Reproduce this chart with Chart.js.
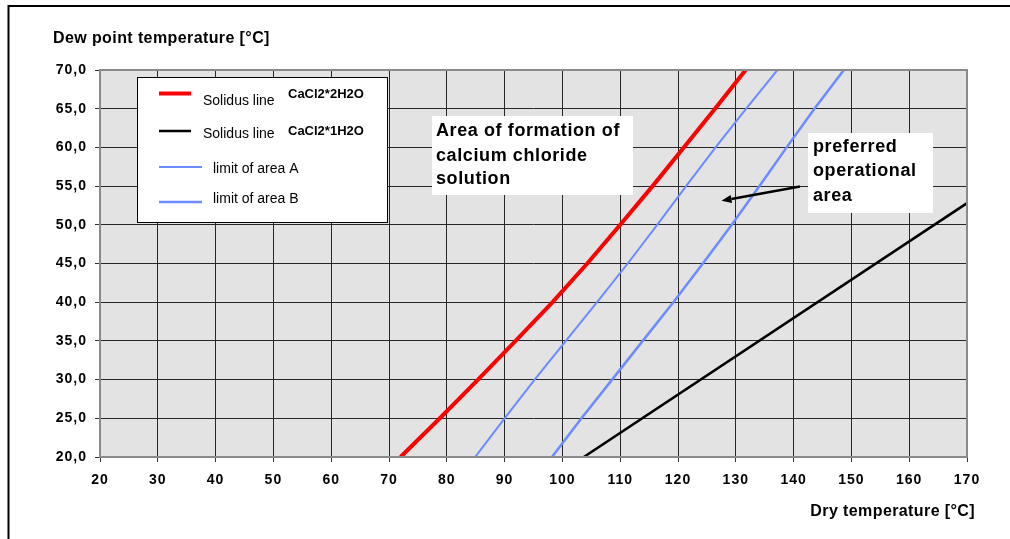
<!DOCTYPE html>
<html>
<head>
<meta charset="utf-8">
<script src="https://cdn.jsdelivr.net/npm/chart.js@4.4.0/dist/chart.umd.min.js"></script>
<style>
  body { margin: 0; background: #fff; }
  canvas { display: block; }
</style>
</head>
<body>
<canvas id="chart" width="1010" height="539"></canvas>
<script>
// dew point values (y) shared by the curves
const dewPoint = [20, 25, 30, 35, 40, 45, 50, 55, 60, 65, 70];
// dry temperature (x) for each dew point
const solidus2H2O = [72.0, 78.8, 85.4, 91.9, 98.3, 104.3, 110.0, 115.6, 121.0, 126.4, 131.7];
const limitA = [84.9, 90.0, 95.2, 100.6, 106.0, 111.3, 116.4, 121.4, 126.5, 131.8, 137.2];
const limitB = [98.2, 103.3, 108.6, 113.9, 119.2, 124.3, 129.3, 134.1, 138.8, 143.6, 148.7];
// the CaCl2*1H2O line is straight
const solidus1H2OX = [103.7, 170];
const solidus1H2OY = [20, 52.8];

const legendNames = ['Solidus line', 'Solidus line', 'limit of area A', 'limit of area B'];
const legendFormula = ['CaCl2*2H2O', 'CaCl2*1H2O', '', ''];
const note1 = ['Area of formation of', 'calcium chloride', 'solution'];
const note2 = ['preferred', 'operational', 'area'];
const yTitle = 'Dew point temperature [°C]';
const xTitle = 'Dry temperature [°C]';

const FONT = "'Liberation Sans', Arial, sans-serif";
const BLUE = '#6a8cff';

function toPoints(xs, ys) {
    return xs.map((x, i) => ({ x: x, y: ys[i] }));
}

const decor = {
    id: 'decor',
    beforeDraw(chart) {
        const { ctx, chartArea: a } = chart;
        ctx.save();
        ctx.fillStyle = '#e3e3e3';
        ctx.fillRect(a.left, a.top, a.width, a.height);
        ctx.restore();
        // tick labels in the original are a bit spread out
        ctx.letterSpacing = '1px';
    },
    beforeDatasetsDraw(chart) {
        chart.ctx.letterSpacing = '0px';
    },
    afterDatasetsDraw(chart) {
        const { ctx, chartArea: a } = chart;
        ctx.save();

        // plot border
        ctx.strokeStyle = '#8a8a8a';
        ctx.lineWidth = 2;
        ctx.strokeRect(a.left, a.top, a.width, a.height);

        // outer frame
        ctx.strokeStyle = '#000';
        ctx.lineWidth = 2;
        ctx.beginPath();
        ctx.moveTo(8.5, 539);
        ctx.lineTo(8.5, 6);
        ctx.lineTo(1010, 6);
        ctx.stroke();

        // legend
        ctx.fillStyle = '#fff';
        ctx.fillRect(137, 77, 250, 145);
        ctx.strokeStyle = '#000';
        ctx.lineWidth = 1;
        ctx.strokeRect(137.5, 77.5, 250, 145);

        const rows = [
            { y: 93.5, x2: 191, tx: 203, ty: 101, fy: 94 },
            { y: 131, x2: 191, tx: 203, ty: 134.5, fy: 131 },
            { y: 167, x2: 202, tx: 213, ty: 169, fy: 0 },
            { y: 202, x2: 202, tx: 213, ty: 199.5, fy: 0 }
        ];
        chart.data.datasets.forEach((ds, i) => {
            const r = rows[i];
            ctx.strokeStyle = ds.borderColor;
            ctx.lineWidth = ds.borderWidth;
            ctx.beginPath();
            ctx.moveTo(159, r.y);
            ctx.lineTo(r.x2, r.y);
            ctx.stroke();
            ctx.fillStyle = '#000';
            ctx.textBaseline = 'middle';
            ctx.textAlign = 'left';
            ctx.font = '14px ' + FONT;
            ctx.fillText(legendNames[i], r.tx, r.ty);
            if (legendFormula[i]) {
                ctx.font = 'bold 13px ' + FONT;
                ctx.fillText(legendFormula[i], 288, r.fy);
            }
        });

        // note boxes
        ctx.fillStyle = '#fff';
        ctx.fillRect(432, 116, 201, 79);
        ctx.fillRect(808, 133, 125, 80);
        ctx.fillStyle = '#000';
        ctx.font = 'bold 18px ' + FONT;
        ctx.letterSpacing = '0.6px';
        [131, 156, 179.5].forEach((y, i) => ctx.fillText(note1[i], 436, y));
        [147, 171.5, 196.5].forEach((y, i) => ctx.fillText(note2[i], 813, y));

        // arrow
        const x0 = 800, y0 = 186.5, x1 = 721.5, y1 = 200.8;
        const ang = Math.atan2(y1 - y0, x1 - x0);
        const hl = 10, hw = 4;
        const bx = x1 - hl * Math.cos(ang), by = y1 - hl * Math.sin(ang);
        ctx.strokeStyle = '#000';
        ctx.lineWidth = 2.5;
        ctx.beginPath();
        ctx.moveTo(x0, y0);
        ctx.lineTo(bx, by);
        ctx.stroke();
        ctx.beginPath();
        ctx.moveTo(x1, y1);
        ctx.lineTo(bx + hw * Math.sin(ang), by - hw * Math.cos(ang));
        ctx.lineTo(bx - hw * Math.sin(ang), by + hw * Math.cos(ang));
        ctx.closePath();
        ctx.fill();

        // axis titles
        ctx.font = 'bold 16px ' + FONT;
        ctx.letterSpacing = '0.4px';
        ctx.textAlign = 'left';
        ctx.fillText(yTitle, 53, 39);
        ctx.textAlign = 'right';
        ctx.fillText(xTitle, 975, 512);

        ctx.restore();
        ctx.letterSpacing = '0px';
    }
};

const ctx = document.getElementById('chart').getContext('2d');
new Chart(ctx, {
    type: 'scatter',
    data: {
        datasets: [
            {
                label: 'Solidus line CaCl2*2H2O',
                data: toPoints(solidus2H2O, dewPoint),
                borderColor: '#ff0000',
                borderWidth: 4
            },
            {
                label: 'Solidus line CaCl2*1H2O',
                data: toPoints(solidus1H2OX, solidus1H2OY),
                borderColor: '#000000',
                borderWidth: 2.5
            },
            {
                label: 'limit of area A',
                data: toPoints(limitA, dewPoint),
                borderColor: BLUE,
                borderWidth: 2
            },
            {
                label: 'limit of area B',
                data: toPoints(limitB, dewPoint),
                borderColor: BLUE,
                borderWidth: 2.5
            }
        ].map(ds => Object.assign(ds, { showLine: true, pointRadius: 0, tension: 0 }))
    },
    options: {
        responsive: false,
        animation: false,
        layout: { padding: { left: 0, top: 70, right: 43, bottom: 0 } },
        plugins: {
            legend: { display: false },
            tooltip: { enabled: false }
        },
        scales: {
            x: {
                type: 'linear',
                min: 20,
                max: 170,
                afterFit: s => { s.height = 82; },
                ticks: {
                    stepSize: 10,
                    color: '#000',
                    padding: 10,
                    font: { family: FONT, size: 14, weight: 'bold' }
                },
                grid: { color: '#262626', lineWidth: 1, tickLength: 5, tickColor: '#333' },
                border: { display: false }
            },
            y: {
                type: 'linear',
                min: 20,
                max: 70,
                afterFit: s => { s.width = 100; },
                ticks: {
                    stepSize: 5,
                    color: '#000',
                    padding: 8,
                    font: { family: FONT, size: 14, weight: 'bold' },
                    callback: v => v.toFixed(1).replace('.', ',')
                },
                grid: { color: '#262626', lineWidth: 1, tickLength: 5, tickColor: '#333' },
                border: { display: false }
            }
        }
    },
    plugins: [decor]
});
</script>
</body>
</html>
